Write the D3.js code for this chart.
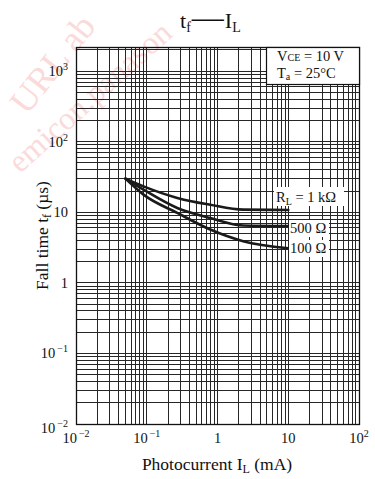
<!DOCTYPE html>
<html>
<head>
<meta charset="utf-8">
<script src="https://cdn.jsdelivr.net/npm/d3@7"></script>
<style>
  body { margin: 0; background: #fff; }
  svg { display: block; }
  text { font-family: "Liberation Serif", "Times New Roman", serif; fill: #111; }
</style>
</head>
<body>
<div class="chart"></div>
<script>
// data
var currents = [0.05, 0.09, 0.27, 0.79, 2.3, 10];          // I_L (mA)
var tf1k     = [30, 23.3, 16.0, 12.8, 10.9, 10.8];         // t_f (us), RL = 1 kOhm
var tf500    = [30, 20.9, 11.5, 8.3, 6.5, 6.4];            // RL = 500 Ohm
var tf100    = [30, 17.8, 9.8, 5.7, 3.9, 3.1];             // RL = 100 Ohm
var seriesNames = ["R_L = 1 kΩ", "500 Ω", "100 Ω"];
var xDomain = [0.01, 100];
var yDomain = [0.01, 2200];
var xTickExp = [-2, -1, 0, 1, 2];
var yTickExp = [-2, -1, 0, 1, 2, 3];

var W = 375, H = 479;
var m = {left: 76, right: 359, top: 47, bottom: 424};

var svg = d3.select(".chart").append("svg")
    .attr("width", W).attr("height", H);

// faint watermark in the background (only the part that shows)
var wm = svg.append("g").attr("class", "watermark");
wm.append("text")
    .attr("transform", "translate(27,116) rotate(-52)")
    .style("font-size", "36px").style("fill", "#fbdada")
    .text("URL ab");
wm.append("text")
    .attr("transform", "translate(20,174) rotate(-42)")
    .style("font-size", "32px").style("fill", "#fbdada")
    .text("emicon.panason");

var x = d3.scaleLog().domain(xDomain).range([m.left, m.right]);
var y = d3.scaleLog().domain(yDomain).range([m.bottom, m.top]);

function crisp(v) { return Math.round(v - 0.5) + 0.5; }

// log grid lines (1..9 in every decade)
var xGrid = [], yGrid = [];
for (var e = -2; e < 2; e++) for (var k = 1; k < 10; k++) xGrid.push(k * Math.pow(10, e));
xGrid.push(100);
for (var e = -2; e < 4; e++) for (var k = 1; k < 10; k++) {
  var v = k * Math.pow(10, e);
  if (v <= yDomain[1]) yGrid.push(v);
}

var grid = svg.append("g").attr("class", "grid")
    .attr("stroke", "#262626").attr("stroke-width", 1);
grid.selectAll(".gx").data(xGrid).enter().append("line")
    .attr("x1", function(d) { return crisp(x(d)); })
    .attr("x2", function(d) { return crisp(x(d)); })
    .attr("y1", m.top).attr("y2", m.bottom);
grid.selectAll(".gy").data(yGrid).enter().append("line")
    .attr("y1", function(d) { return crisp(y(d)); })
    .attr("y2", function(d) { return crisp(y(d)); })
    .attr("x1", m.left).attr("x2", m.right);

svg.append("rect")
    .attr("x", crisp(m.left)).attr("y", crisp(m.top))
    .attr("width", Math.round(m.right - m.left)).attr("height", Math.round(m.bottom - m.top))
    .attr("fill", "none").attr("stroke", "#111").attr("stroke-width", 1.3);

// curves
var line = d3.line()
    .x(function(d) { return x(d[0]); })
    .y(function(d) { return y(d[1]); })
    .curve(d3.curveMonotoneX);
var series = [tf1k, tf500, tf100].map(function(s) {
  return s.map(function(v, i) { return [currents[i], v]; });
});
svg.append("g").selectAll("path").data(series).enter().append("path")
    .attr("d", line)
    .attr("fill", "none").attr("stroke", "#1a1a1a")
    .attr("stroke-width", 2.6).attr("stroke-linecap", "round");

// curve labels with white backing
var labelPos = [
  {x: 276, y: 202, bx: 274, by: 187, bw: 70, bh: 19},
  {x: 290, y: 233, bx: 289, by: 220, bw: 40, bh: 17},
  {x: 290, y: 253, bx: 289, by: 240, bw: 40, bh: 17}
];
var lab = svg.append("g").attr("class", "curve-labels");
labelPos.forEach(function(p, i) {
  lab.append("rect").attr("x", p.bx).attr("y", p.by)
     .attr("width", p.bw).attr("height", p.bh).attr("fill", "#fff");
  var t = lab.append("text").attr("x", p.x).attr("y", p.y).style("font-size", "14.5px");
  if (i === 0) {
    t.append("tspan").text("R");
    t.append("tspan").attr("dy", 3).style("font-size", "10px").text("L");
    t.append("tspan").attr("dy", -3).text(" = 1 kΩ");
  } else {
    t.text(seriesNames[i]);
  }
});

// condition box
svg.append("rect")
    .attr("x", 266.5).attr("y", crisp(m.top))
    .attr("width", crisp(m.right) - 266.5).attr("height", 37)
    .attr("fill", "#fff").attr("stroke", "#111").attr("stroke-width", 1.2);
var c1 = svg.append("text").attr("x", 277).attr("y", 61).style("font-size", "14.5px");
c1.append("tspan").text("V");
c1.append("tspan").style("font-size", "10px").text("CE");
c1.append("tspan").text(" = 10 V");
var c2 = svg.append("text").attr("x", 277).attr("y", 78).style("font-size", "14.5px");
c2.append("tspan").text("T");
c2.append("tspan").attr("dy", 2).style("font-size", "10px").text("a");
c2.append("tspan").attr("dy", -2).text(" = 25°C");

// tick labels
function powLabel(sel, e) {
  if (e === 0) { sel.text("1"); return; }
  if (e === 1) { sel.text("10"); return; }
  sel.append("tspan").text("10");
  sel.append("tspan").attr("dy", -6).style("font-size", "10px")
     .text(e < 0 ? "\u2009−" + (-e) : String(e));
}
svg.append("g").selectAll("text").data(xTickExp).enter().append("text")
    .attr("x", function(d) { return x(Math.pow(10, d)); })
    .attr("y", 443).attr("text-anchor", "middle")
    .style("font-size", "14.5px")
    .each(function(d) { powLabel(d3.select(this), d); });
svg.append("g").selectAll("text").data(yTickExp).enter().append("text")
    .attr("x", 68)
    .attr("y", function(d) { return y(Math.pow(10, d)) + 5 + (d === -2 ? 4 : 0); })
    .attr("text-anchor", "end")
    .style("font-size", "14.5px")
    .each(function(d) { powLabel(d3.select(this), d); });

// axis titles
var xt = svg.append("text").attr("x", 217).attr("y", 470)
    .attr("text-anchor", "middle").style("font-size", "17.5px");
xt.append("tspan").text("Photocurrent  I");
xt.append("tspan").attr("dy", 3).style("font-size", "12px").text("L");
xt.append("tspan").attr("dy", -3).text("  (mA)");

var yt = svg.append("text")
    .attr("transform", "translate(48," + ((m.top + m.bottom) / 2) + ") rotate(-90)")
    .attr("text-anchor", "middle").style("font-size", "17.5px");
yt.append("tspan").text("Fall time  t");
yt.append("tspan").attr("dy", 3).style("font-size", "12px").text("f");
yt.append("tspan").attr("dy", -3).text("  (µs)");

// title: t_f —— I_L with a long dash
var title = svg.append("text").attr("x", 180).attr("y", 28)
    .style("font-size", "22px");
title.append("tspan").text("t");
title.append("tspan").attr("dy", 4).style("font-size", "14px").text("f");
title.append("tspan").attr("dy", -4).attr("dx", 1).style("font-size", "32px").text("—");
title.append("tspan").attr("dx", 1).text("I");
title.append("tspan").attr("dy", 4).style("font-size", "14px").text("L");
</script>
</body>
</html>
